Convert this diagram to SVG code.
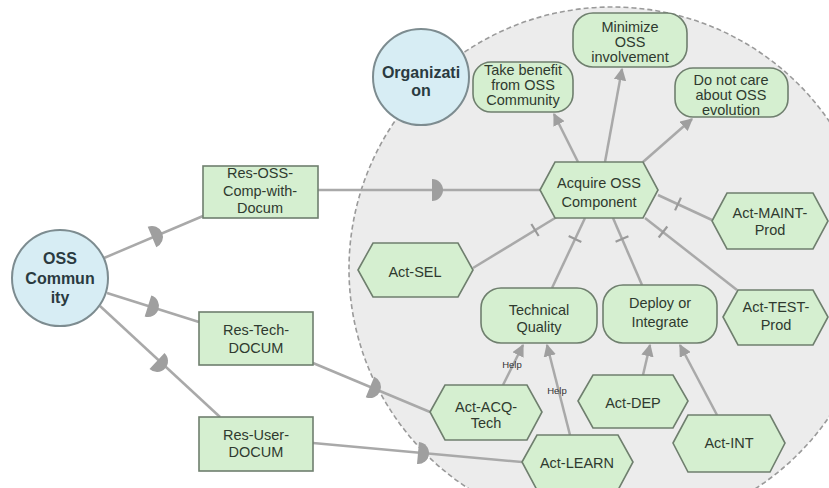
<svg xmlns="http://www.w3.org/2000/svg" width="829" height="488" viewBox="0 0 829 488">
<style>
.bg{fill:#ececec;stroke:#9a9a9a;stroke-width:1.6;stroke-dasharray:5 3}
.actor{fill:#d7edf4;stroke:#7d8c90;stroke-width:2}
.el{fill:#d5efd0;stroke:#6f7f6e;stroke-width:1.6}
.ln{fill:none;stroke:#a9a9a9;stroke-width:2.5}
.dm{fill:#9f9f9f}
.tk{stroke:#9a9a9a;stroke-width:2.2}
text{font-family:"Liberation Sans",Arial,sans-serif;fill:#2f3a2f;text-anchor:middle}
.t{font-size:14.5px}
.b{font-size:16px;font-weight:bold;fill:#2a3a40}
.h{font-size:9.5px;fill:#333333}
</style>
<defs>
<path id="D" d="M0,-11 A11,11 0 0 1 0,11 Z" class="dm"/>
<line id="T" x1="0" y1="-7" x2="0" y2="7" class="tk"/>
<marker id="arr" viewBox="0 0 10 10" refX="9" refY="5" markerWidth="5" markerHeight="5" orient="auto">
<path d="M0,0 L10,5 L0,10 Z" fill="#9f9f9f"/>
</marker>
</defs>
<rect width="829" height="488" fill="#ffffff"/>
<ellipse id="boundary" class="bg" cx="612" cy="269" rx="263" ry="262"/>
<g id="connectors">
<line class="ln" x1="104" y1="258" x2="203" y2="216"/>
<line class="ln" x1="318" y1="190" x2="540" y2="190"/>
<line class="ln" x1="107" y1="293" x2="199" y2="322"/>
<line class="ln" x1="100" y1="306" x2="220" y2="417"/>
<line class="ln" x1="313" y1="363" x2="430" y2="412"/>
<line class="ln" x1="313" y1="443" x2="522" y2="462"/>
<use href="#D" transform="translate(152,237) rotate(-23)"/>
<use href="#D" transform="translate(432,190)"/>
<use href="#D" transform="translate(148,306) rotate(17.5)"/>
<use href="#D" transform="translate(157,361) rotate(42.8)"/>
<use href="#D" transform="translate(370,387) rotate(22.7)"/>
<use href="#D" transform="translate(418,453) rotate(5.2)"/>
<line class="ln" x1="560" y1="215" x2="473" y2="268"/>
<line class="ln" x1="585" y1="218" x2="552" y2="288"/>
<line class="ln" x1="613" y1="218" x2="642" y2="285"/>
<line class="ln" x1="658" y1="195" x2="712" y2="220"/>
<line class="ln" x1="645" y1="218" x2="737" y2="290"/>
<use href="#T" transform="translate(535,230) rotate(148.6)"/>
<use href="#T" transform="translate(575,239) rotate(115.2)"/>
<use href="#T" transform="translate(622,239) rotate(66.6)"/>
<use href="#T" transform="translate(678,204) rotate(24.8)"/>
<use href="#T" transform="translate(663,232) rotate(38)"/>
<line class="ln" x1="578" y1="162" x2="554" y2="114" marker-end="url(#arr)"/>
<line class="ln" x1="605" y1="162" x2="622" y2="69" marker-end="url(#arr)"/>
<line class="ln" x1="643" y1="162" x2="692" y2="119" marker-end="url(#arr)"/>
<line class="ln" x1="503" y1="385" x2="523" y2="345" marker-end="url(#arr)"/>
<line class="ln" x1="570" y1="435" x2="547" y2="345" marker-end="url(#arr)"/>
<line class="ln" x1="643" y1="375" x2="650" y2="345" marker-end="url(#arr)"/>
<line class="ln" x1="717" y1="415" x2="680" y2="345" marker-end="url(#arr)"/>
<text class="h" x="512" y="368">Help</text>
<text class="h" x="557" y="394">Help</text>
</g>
<g id="oss-community">
<circle class="actor" cx="60" cy="278" r="48"/>
<text class="b" x="60" y="264">OSS</text>
<text class="b" x="60" y="284">Commun</text>
<text class="b" x="60" y="303">ity</text>
</g>
<g id="organization">
<circle class="actor" cx="421" cy="77" r="48"/>
<text class="b" x="421" y="78">Organizati</text>
<text class="b" x="421" y="96">on</text>
</g>
<g id="res-oss-comp">
<rect class="el" x="203" y="166" width="115" height="52"/>
<text class="t" x="260" y="178">Res-OSS-</text>
<text class="t" x="260" y="196">Comp-with-</text>
<text class="t" x="260" y="213">Docum</text>
</g>
<g id="res-tech-docum">
<rect class="el" x="199" y="312" width="114" height="53"/>
<text class="t" x="256" y="335">Res-Tech-</text>
<text class="t" x="256" y="353">DOCUM</text>
</g>
<g id="res-user-docum">
<rect class="el" x="199" y="417" width="114" height="54"/>
<text class="t" x="256" y="440">Res-User-</text>
<text class="t" x="256" y="457">DOCUM</text>
</g>
<g id="take-benefit">
<rect class="el" x="473" y="62" width="100" height="50" rx="18"/>
<text class="t" x="523" y="75">Take benefit</text>
<text class="t" x="523" y="90">from OSS</text>
<text class="t" x="523" y="105">Community</text>
</g>
<g id="minimize">
<rect class="el" x="573" y="13" width="114" height="54" rx="20"/>
<text class="t" x="630" y="32">Minimize</text>
<text class="t" x="630" y="47">OSS</text>
<text class="t" x="630" y="62">involvement</text>
</g>
<g id="do-not-care">
<rect class="el" x="675" y="68" width="113" height="49" rx="18"/>
<text class="t" x="731" y="85">Do not care</text>
<text class="t" x="731" y="100">about OSS</text>
<text class="t" x="731" y="115">evolution</text>
</g>
<g id="acquire">
<polygon class="el" points="540,190 555,162 643,162 658,190 643,218 555,218"/>
<text class="t" x="599" y="188">Acquire OSS</text>
<text class="t" x="599" y="207">Component</text>
</g>
<g id="act-maint-prod">
<polygon class="el" points="712,221 727,193 813,193 828,221 813,249 727,249"/>
<text class="t" x="770" y="218">Act-MAINT-</text>
<text class="t" x="770" y="235">Prod</text>
</g>
<g id="act-sel">
<polygon class="el" points="358,270 373,243 458,243 473,270 458,297 373,297"/>
<text class="t" x="415" y="277">Act-SEL</text>
</g>
<g id="technical-quality">
<rect class="el" x="481" y="288" width="116" height="55" rx="20"/>
<text class="t" x="539" y="315">Technical</text>
<text class="t" x="539" y="332">Quality</text>
</g>
<g id="deploy-integrate">
<rect class="el" x="603" y="285" width="114" height="58" rx="20"/>
<text class="t" x="660" y="308">Deploy or</text>
<text class="t" x="660" y="327">Integrate</text>
</g>
<g id="act-test-prod">
<polygon class="el" points="723,317 738,290 813,290 828,317 813,345 738,345"/>
<text class="t" x="776" y="312">Act-TEST-</text>
<text class="t" x="776" y="330">Prod</text>
</g>
<g id="act-acq-tech">
<polygon class="el" points="430,412 445,385 527,385 542,412 527,440 445,440"/>
<text class="t" x="486" y="412">Act-ACQ-</text>
<text class="t" x="486" y="428">Tech</text>
</g>
<g id="act-dep">
<polygon class="el" points="578,401 593,375 673,375 688,401 673,428 593,428"/>
<text class="t" x="633" y="408">Act-DEP</text>
</g>
<g id="act-int">
<polygon class="el" points="673,443 688,415 770,415 785,443 770,472 688,472"/>
<text class="t" x="729" y="448">Act-INT</text>
</g>
<g id="act-learn">
<polygon class="el" points="522,462 537,435 618,435 633,462 618,490 537,490"/>
<text class="t" x="577" y="468">Act-LEARN</text>
</g>
</svg>
